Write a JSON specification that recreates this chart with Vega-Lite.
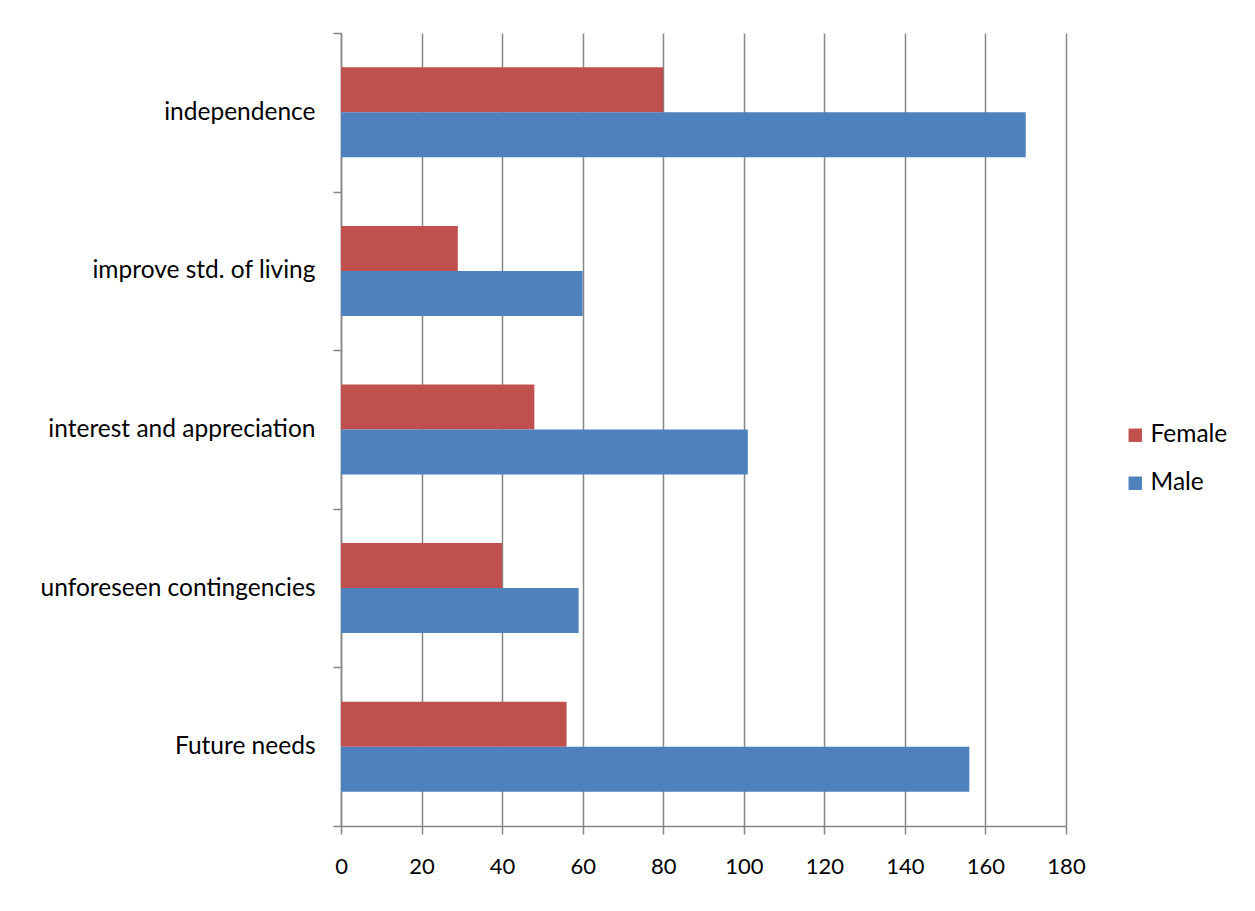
{
  "$schema": "https://vega.github.io/schema/vega-lite/v6.json",
  "autosize": {"type": "none"},
  "padding": {"left": 341, "top": 33, "right": 189, "bottom": 85},
  "width": 725,
  "height": 793,
  "background": "white",
  "data": {
    "values": [
      {"reason": "independence", "gender": "Female", "count": 80},
      {"reason": "independence", "gender": "Male", "count": 170},
      {"reason": "improve std. of living", "gender": "Female", "count": 29},
      {"reason": "improve std. of living", "gender": "Male", "count": 60},
      {"reason": "interest and appreciation", "gender": "Female", "count": 48},
      {"reason": "interest and appreciation", "gender": "Male", "count": 101},
      {"reason": "unforeseen contingencies", "gender": "Female", "count": 40},
      {"reason": "unforeseen contingencies", "gender": "Male", "count": 59},
      {"reason": "Future needs", "gender": "Female", "count": 56},
      {"reason": "Future needs", "gender": "Male", "count": 156}
    ]
  },
  "mark": {"type": "bar"},
  "encoding": {
    "y": {
      "field": "reason",
      "type": "nominal",
      "sort": ["independence", "improve std. of living", "interest and appreciation", "unforeseen contingencies", "Future needs"],
      "scale": {"paddingInner": 0, "paddingOuter": 0},
      "axis": {
        "title": null,
        "tickBand": "extent",
        "domainColor": "#868686",
        "domainWidth": 1.5,
        "tickColor": "#868686",
        "tickWidth": 1.5,
        "tickSize": 8,
        "labelFont": "Lato",
        "labelFontSize": 24.5,
        "labelColor": "#000000",
        "labelPadding": 18,
        "labelLimit": 400,
        "grid": false
      }
    },
    "yOffset": {
      "field": "gender",
      "type": "nominal",
      "sort": ["Female", "Male"],
      "scale": {"paddingInner": 0, "paddingOuter": 0.762}
    },
    "x": {
      "field": "count",
      "type": "quantitative",
      "scale": {"domain": [0, 180], "nice": false},
      "axis": {
        "title": null,
        "values": [0, 20, 40, 60, 80, 100, 120, 140, 160, 180],
        "grid": true,
        "gridColor": "#868686",
        "gridWidth": 1.5,
        "gridOpacity": 1,
        "domainColor": "#868686",
        "domainWidth": 1.5,
        "tickColor": "#868686",
        "tickWidth": 1.5,
        "tickSize": 8,
        "labelFont": "Lato",
        "labelFontSize": 22,
        "labelColor": "#000000",
        "labelPadding": 22,
        "labelFlush": false
      }
    },
    "color": {
      "field": "gender",
      "type": "nominal",
      "sort": ["Female", "Male"],
      "scale": {"domain": ["Female", "Male"], "range": ["#C0504D", "#4F81BD"]},
      "legend": {
        "title": null,
        "orient": "none",
        "legendX": 782,
        "legendY": 390,
        "symbolType": "square",
        "symbolSize": 180,
        "symbolStrokeWidth": 0,
        "symbolOpacity": 1,
        "labelFont": "Lato",
        "labelFontSize": 24.5,
        "labelColor": "#000000",
        "labelOffset": 3,
        "rowPadding": 23
      }
    }
  },
  "config": {"view": {"stroke": null}}
}
